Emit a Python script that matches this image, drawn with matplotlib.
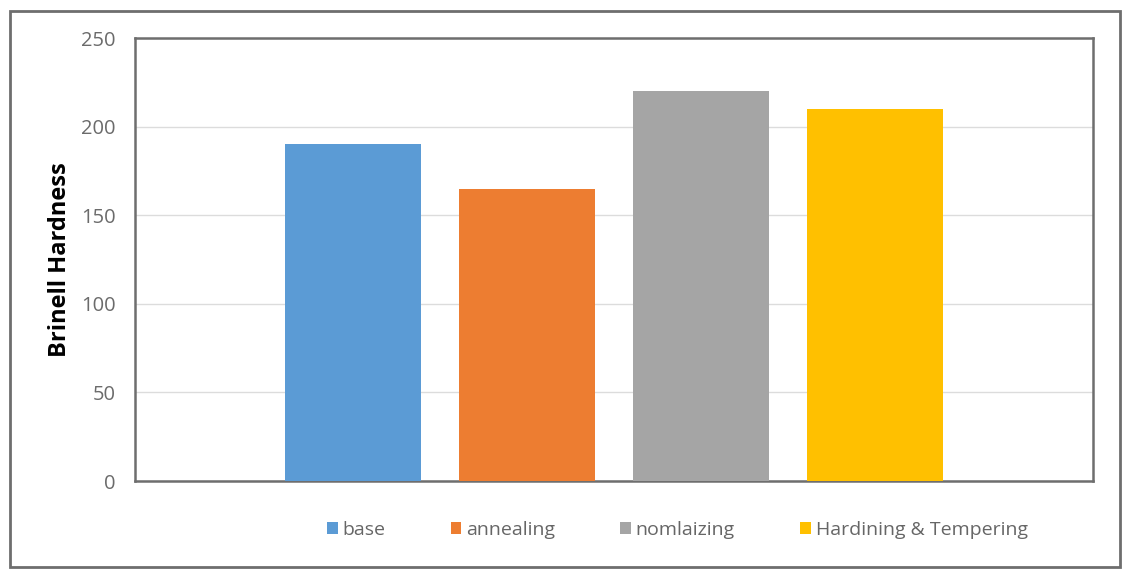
import matplotlib.pyplot as plt
from matplotlib.patches import Rectangle

treatments = ['base', 'annealing', 'nomlaizing', 'Hardining & Tempering']
hardness = [190, 165, 220, 210]
colors = ['#5b9bd5', '#ed7d31', '#a5a5a5', '#ffc000']
yticks = [0, 50, 100, 150, 200, 250]

plt.rcParams['font.family'] = ['Open Sans', 'DejaVu Sans']

fig = plt.figure(figsize=(11.29, 5.70), dpi=100)
ax = fig.add_axes([0.1196, 0.1561, 0.8486, 0.7772])

# outer chart frame
fig.patches.append(Rectangle((10 / 1129, 3 / 570), 1110 / 1129, 556 / 570,
                             transform=fig.transFigure, fill=False,
                             edgecolor='#6e6e6e', linewidth=2))

for i, (name, val, c) in enumerate(zip(treatments, hardness, colors)):
    ax.bar(i, val, width=0.78, color=c, label=name, zorder=3)

ax.set_xlim(-1.25, 4.25)
ax.set_ylim(0, 250)
ax.set_yticks(yticks)
ax.set_xticks([])
ax.grid(axis='y', color='#dcdcdc', linewidth=1, zorder=0)
ax.tick_params(axis='y', length=0, pad=14, labelsize=14.5, labelcolor='#6b6b6b')
for s in ax.spines.values():
    s.set_color('#6e6e6e')
    s.set_linewidth(1.8)

ax.set_ylabel('Brinell Hardness', fontsize=17, fontweight='bold')
ax.yaxis.set_label_coords(-0.066, 0.5)

ax.legend(loc='center', bbox_to_anchor=(0.566, -0.111), ncol=4, frameon=False,
          handlelength=0.55, handleheight=0.55, handletextpad=0.25,
          columnspacing=3.35, fontsize=14, labelcolor='#666666')

plt.savefig('out.png', dpi=100)
